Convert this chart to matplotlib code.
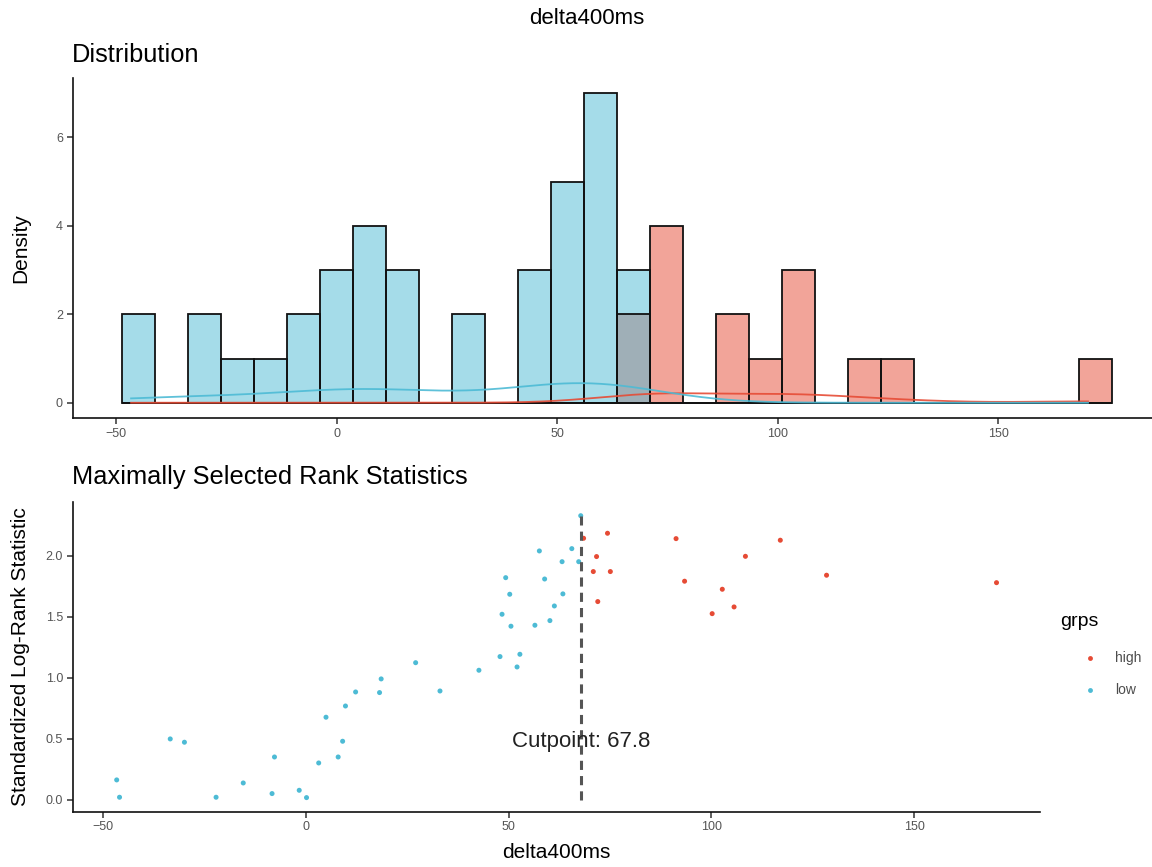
import numpy as np
import matplotlib
matplotlib.use("Agg")
import matplotlib.pyplot as plt
from matplotlib.lines import Line2D

plt.rcParams['font.family'] = ['Liberation Sans', 'DejaVu Sans']

# ---------------- data ----------------
low_x = [-46.6, -45.9, -33.4, -29.9, -22.1, -15.4, -8.3, -7.7, -1.6, 0.2,
         3.2, 5.0, 8.0, 9.1, 9.8, 12.3, 18.2, 18.6, 27.1, 33.1,
         42.7, 47.9, 48.4, 49.3, 50.3, 50.6, 52.1, 52.8, 56.5, 57.6,
         58.9, 60.2, 61.3, 63.2, 63.4, 65.6, 67.3, 67.8]
low_stat = [0.164, 0.022, 0.500, 0.473, 0.022, 0.139, 0.052, 0.352, 0.079, 0.019,
            0.303, 0.678, 0.352, 0.481, 0.770, 0.885, 0.880, 0.992, 1.125, 0.893,
            1.063, 1.175, 1.522, 1.822, 1.686, 1.424, 1.090, 1.194, 1.432, 2.041,
            1.811, 1.470, 1.590, 1.953, 1.689, 2.060, 1.953, 2.330]
high_x = [68.5, 70.9, 71.7, 72.0, 74.4, 75.1, 91.3, 93.4, 100.2, 102.7,
          105.6, 108.4, 117.0, 128.4, 170.3]
high_stat = [2.145, 1.872, 1.995, 1.626, 2.186, 1.872, 2.142, 1.793, 1.527, 1.727,
             1.582, 1.997, 2.129, 1.842, 1.781]
cutpoint = 67.8
groups = ["high", "low"]
colors = {"high": "#E64B35", "low": "#4DBBD5"}
n_bins = 30

W, H = 1152, 867
fig = plt.figure(figsize=(W / 100, H / 100), dpi=100)


def fx(px):
    return px / W


def fy(py):
    return 1 - py / H


all_x = np.array(low_x + high_x)
xmin, xmax = all_x.min(), all_x.max()

# ggplot2-style bins (bins = 30)
bw_hist = (xmax - xmin) / (n_bins - 1)
boundary = bw_hist / 2
origin = boundary + np.floor((xmin - boundary) / bw_hist) * bw_hist
edges = origin + bw_hist * np.arange(n_bins + 1)

# ---------------- top panel: distribution ----------------
ax1 = fig.add_axes([fx(72.7), fy(418.2), fx(1161.6 - 72.7), (418.2 - 77.8) / H])
data = {"high": np.array(high_x), "low": np.array(low_x)}
for g in groups:
    ax1.hist(data[g], bins=edges, color=colors[g], alpha=0.5, edgecolor="none", zorder=2)
    ax1.hist(data[g], bins=edges, histtype="bar", facecolor="none",
             edgecolor="#111111", linewidth=1.3, zorder=3)


def kde(vals, grid):
    vals = np.asarray(vals)
    n = len(vals)
    sd = vals.std(ddof=1)
    iqr = np.subtract(*np.percentile(vals, [75, 25]))
    bw = 0.9 * min(sd, iqr / 1.34) * n ** (-0.2)
    z = (grid[:, None] - vals[None, :]) / bw
    return np.exp(-0.5 * z ** 2).sum(axis=1) / (n * bw * np.sqrt(2 * np.pi))


grid = np.linspace(xmin, xmax, 512)
for g in groups:
    dens = kde(data[g], grid) * len(data[g])
    ax1.plot(grid, dens, color=colors[g], lw=1.3, alpha=0.9, zorder=4)

xr = edges[-1] - edges[0]
ax1.set_xlim(edges[0] - 0.05 * xr, edges[-1] + 0.05 * xr)
ax1.set_ylim(-0.35, 7.35)
ax1.set_xticks([-50, 0, 50, 100, 150])
ax1.set_yticks([0, 2, 4, 6])

# ---------------- bottom panel: maxstat ----------------
ax2 = fig.add_axes([fx(72.7), fy(811.7), fx(1040.5 - 72.7), (811.7 - 501.6) / H])
ax2.scatter(high_x, high_stat, s=13, color=colors["high"], edgecolors="none", zorder=3)
ax2.scatter(low_x, low_stat, s=13, color=colors["low"], edgecolors="none", zorder=3)
all_stat = np.array(low_stat + high_stat)
ax2.vlines(cutpoint, 0, all_stat.max(), colors="#555555", linestyles=(0, (3, 2)),
           linewidth=2.2, zorder=4)
ax2.text(cutpoint, 0.475, "Cutpoint: 67.8", ha="center", va="center",
         fontsize=16, color="#222222", zorder=5)
xr2 = xmax - xmin
ax2.set_xlim(xmin - 0.05 * xr2, xmax + 0.05 * xr2)
sr = all_stat.max() - all_stat.min()
ax2.set_ylim(all_stat.min() - 0.05 * sr, all_stat.max() + 0.05 * sr)
ax2.set_xticks([-50, 0, 50, 100, 150])
ax2.set_yticks([0.0, 0.5, 1.0, 1.5, 2.0])
ax2.set_yticklabels(["0.0", "0.5", "1.0", "1.5", "2.0"])

for ax in (ax1, ax2):
    for s in ("top", "right"):
        ax.spines[s].set_visible(False)
    for s in ("left", "bottom"):
        ax.spines[s].set_linewidth(1.2)
        ax.spines[s].set_color("#111111")
    ax.tick_params(axis="both", length=4, width=1.1, color="#333333",
                   labelsize=9, labelcolor="#555555", pad=3)

# ---------------- texts ----------------
fig.text(fx(587), fy(18), "delta400ms", ha="center", va="center", fontsize=16)
fig.text(fx(72), fy(55), "Distribution", ha="left", va="center", fontsize=18.3)
fig.text(fx(72), fy(477), "Maximally Selected Rank Statistics", ha="left",
         va="center", fontsize=18.3)
fig.text(fx(21), fy(248), "Density", rotation=90, ha="center", va="center", fontsize=15)
fig.text(fx(21), fy(656.6), "Standardized Log-Rank Statistic", rotation=90,
         ha="center", va="center", fontsize=15)
fig.text(fx(556.6), fy(853), "delta400ms", ha="center", va="center", fontsize=15)

# legend
fig.text(fx(1060), fy(622), "grps", ha="left", va="center", fontsize=14)
for g, py in zip(groups, [658, 690]):
    fig.lines.append(Line2D([fx(1090)], [fy(py)], marker="o", markersize=3.5,
                            color=colors[g], markeredgewidth=0, transform=fig.transFigure))
    fig.text(fx(1115), fy(py), g, ha="left", va="center", fontsize=10, color="#4D4D4D")

fig.savefig("out.png", dpi=100)
